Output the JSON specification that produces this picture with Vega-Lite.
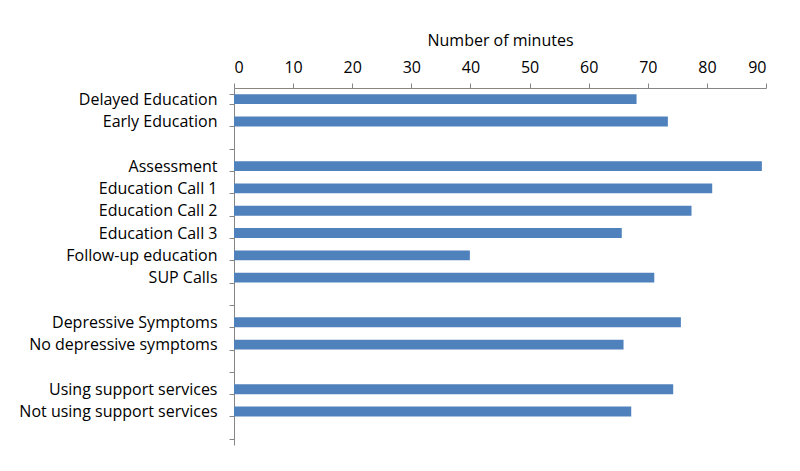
{
  "$schema": "https://vega.github.io/schema/vega-lite/v6.json",
  "width": 532,
  "height": 357,
  "autosize": {"type": "none"},
  "padding": {"left": 234, "top": 88, "right": 34, "bottom": 26},
  "background": "white",
  "config": {
    "view": {"stroke": null},
    "font": "Open Sans"
  },
  "data": {
    "values": [
      {"category": "Delayed Education\u00a0", "minutes": 68.1},
      {"category": "Early Education", "minutes": 73.4},
      {"category": "Assessment\u00a0", "minutes": 89.3},
      {"category": "Education Call 1", "minutes": 80.9},
      {"category": "Education Call 2", "minutes": 77.4},
      {"category": "Education Call 3\u00a0", "minutes": 65.6},
      {"category": "Follow-up education\u00a0", "minutes": 39.9},
      {"category": "SUP Calls\u00a0", "minutes": 71.1},
      {"category": "Depressive Symptoms", "minutes": 75.6},
      {"category": "No depressive symptoms", "minutes": 65.9},
      {"category": "Using support services\u00a0", "minutes": 74.3},
      {"category": "Not using support services\u00a0", "minutes": 67.2}
    ]
  },
  "mark": {"type": "bar", "color": "#4F81BD"},
  "encoding": {
    "y": {
      "field": "category",
      "type": "nominal",
      "sort": null,
      "scale": {
        "domain": [
          "Delayed Education\u00a0",
          "Early Education",
          "gap1",
          "Assessment\u00a0",
          "Education Call 1",
          "Education Call 2",
          "Education Call 3\u00a0",
          "Follow-up education\u00a0",
          "SUP Calls\u00a0",
          "gap2",
          "Depressive Symptoms",
          "No depressive symptoms",
          "gap3",
          "Using support services\u00a0",
          "Not using support services\u00a0",
          "gap4"
        ],
        "paddingInner": 0.56,
        "paddingOuter": 0.28
      },
      "axis": {
        "title": null,
        "orient": "left",
        "tickBand": "extent",
        "tickSize": 5,
        "tickColor": "#868686",
        "domainColor": "#868686",
        "labelPadding": 12,
        "labelFontSize": 16,
        "labelLimit": 300,
        "labelColor": "#000000",
        "labelExpr": "indexof(datum.label, 'gap') == 0 ? '' : datum.label",
        "grid": false
      }
    },
    "x": {
      "field": "minutes",
      "type": "quantitative",
      "scale": {"domain": [0, 90], "nice": false},
      "axis": {
        "orient": "top",
        "title": "Number of minutes",
        "titleFontSize": 16,
        "titleFontWeight": "normal",
        "titleColor": "#000000",
        "titlePadding": 11,
        "values": [0, 10, 20, 30, 40, 50, 60, 70, 80, 90],
        "tickSize": 5,
        "tickColor": "#868686",
        "domainColor": "#868686",
        "labelFontSize": 16,
        "labelColor": "#000000",
        "labelPadding": 8,
        "grid": false
      }
    }
  }
}
